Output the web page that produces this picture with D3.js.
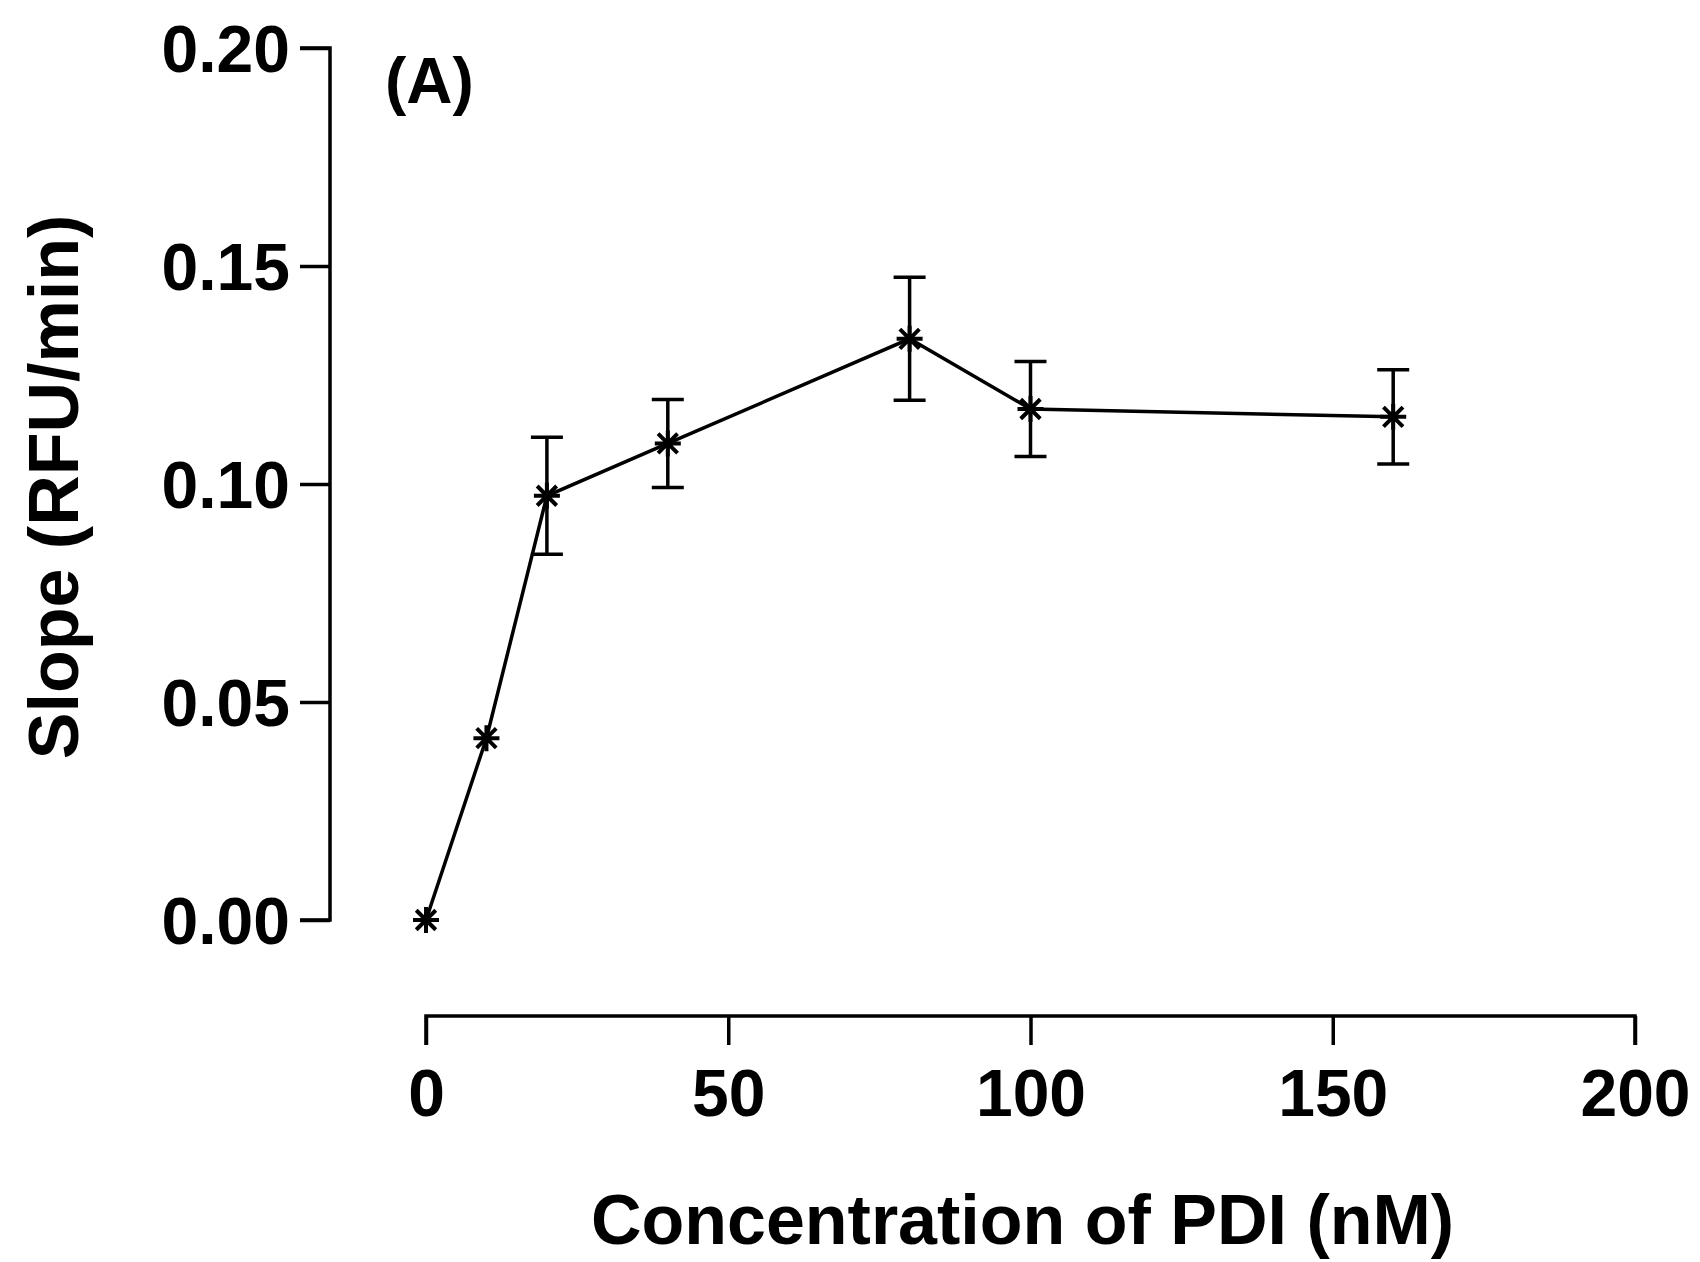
<!DOCTYPE html>
<html>
<head>
<meta charset="utf-8">
<script src="https://cdn.jsdelivr.net/npm/d3@7"></script>
<style>
  body { margin: 0; background: #fff; }
  text { font-family: "Liberation Sans", Arial, sans-serif; font-weight: bold; fill: #000; }
</style>
</head>
<body>
<div id="chart-area"></div>
<script>
// PDI concentration (nM) vs slope (RFU/min), mean +/- error
var conc  = [0, 10, 20, 40, 80, 100, 160];
var slope = [0, 0.0417, 0.0973, 0.1093, 0.1333, 0.1172, 0.1154];
var err   = [0, 0, 0.0134, 0.0101, 0.0141, 0.0109, 0.0108];

var xTicks = [0, 50, 100, 150, 200];
var yTicks = [0, 0.05, 0.10, 0.15, 0.20];

var width = 1700, height = 1262;

var svg = d3.select("#chart-area")
	.append("svg")
		.attr("width", width)
		.attr("height", height);

var x = d3.scaleLinear().domain([0, 200]).range([426, 1635]);
var y = d3.scaleLinear().domain([0, 0.20]).range([920, 48]);

var axisX = 330, axisY = 1016;

// y axis
var gy = svg.append("g")
	.attr("transform", "translate(" + axisX + ",0)")
	.call(d3.axisLeft(y).tickValues(yTicks).tickFormat(d3.format(".2f")).tickSize(30).tickPadding(10));

// x axis (offset below the plot)
var gx = svg.append("g")
	.attr("transform", "translate(0," + axisY + ")")
	.call(d3.axisBottom(x).tickValues(xTicks).tickFormat(d3.format("d")).tickSize(29).tickPadding(24));

[gx, gy].forEach(function(g){
	g.select(".domain").attr("stroke", "#000").attr("stroke-width", 3.5);
	g.selectAll(".tick line").attr("stroke", "#000").attr("stroke-width", 3.5);
	g.selectAll(".tick text")
		.attr("font-size", "66px")
		.attr("font-family", "Liberation Sans, Arial, sans-serif")
		.attr("font-weight", "bold")
		.attr("fill", "#000");
});
// keep the outer tick marks flush with the axis ends
gy.select(".domain").attr("d", "M-30," + y(0.20) + "H0V" + y(0) + "H-30");
gx.select(".domain").attr("d", "M" + x(0) + ",29V0H" + x(200) + "V29");
gy.selectAll(".tick text").attr("dy", "0.36em");

var data = conc.map(function(c, i){ return {x: c, y: slope[i], e: err[i]}; });

// connecting line
var line = d3.line()
	.x(function(d){ return x(d.x); })
	.y(function(d){ return y(d.y); });

svg.append("path")
	.datum(data)
	.attr("d", line)
	.attr("fill", "none")
	.attr("stroke", "#000")
	.attr("stroke-width", 3.5);

// error bars
var eb = svg.append("g").attr("stroke", "#000").attr("stroke-width", 3.5);
data.filter(function(d){ return d.e > 0; }).forEach(function(d){
	var cx = x(d.x);
	eb.append("line").attr("x1", cx).attr("x2", cx).attr("y1", y(d.y + d.e)).attr("y2", y(d.y - d.e));
	eb.append("line").attr("x1", cx - 16).attr("x2", cx + 16).attr("y1", y(d.y + d.e)).attr("y2", y(d.y + d.e));
	eb.append("line").attr("x1", cx - 16).attr("x2", cx + 16).attr("y1", y(d.y - d.e)).attr("y2", y(d.y - d.e));
});

// asterisk markers
var r = 13;
var star = "M" + (-r) + ",0H" + r +
	"M0," + (-r) + "V" + r +
	"M" + (-r * 0.75) + "," + (-r * 0.75) + "L" + (r * 0.75) + "," + (r * 0.75) +
	"M" + (-r * 0.75) + "," + (r * 0.75) + "L" + (r * 0.75) + "," + (-r * 0.75);

svg.selectAll(".pt")
	.data(data)
	.enter().append("path")
		.attr("class", "pt")
		.attr("transform", function(d){ return "translate(" + x(d.x) + "," + y(d.y) + ")"; })
		.attr("d", star)
		.attr("fill", "none")
		.attr("stroke", "#000")
		.attr("stroke-width", 4);

// axis titles
svg.append("text")
	.attr("x", (x(0) + x(200)) / 2 - 8)
	.attr("y", 1244)
	.attr("font-size", "70px")
	.attr("text-anchor", "middle")
	.text("Concentration of PDI (nM)");

svg.append("text")
	.attr("transform", "translate(78," + ((y(0) + y(0.20)) / 2 + 3) + ") rotate(-90)")
	.attr("font-size", "70px")
	.attr("text-anchor", "middle")
	.text("Slope (RFU/min)");

// panel label
svg.append("text")
	.attr("x", 385)
	.attr("y", 103)
	.attr("font-size", "64px")
	.text("(A)");
</script>
</body>
</html>
